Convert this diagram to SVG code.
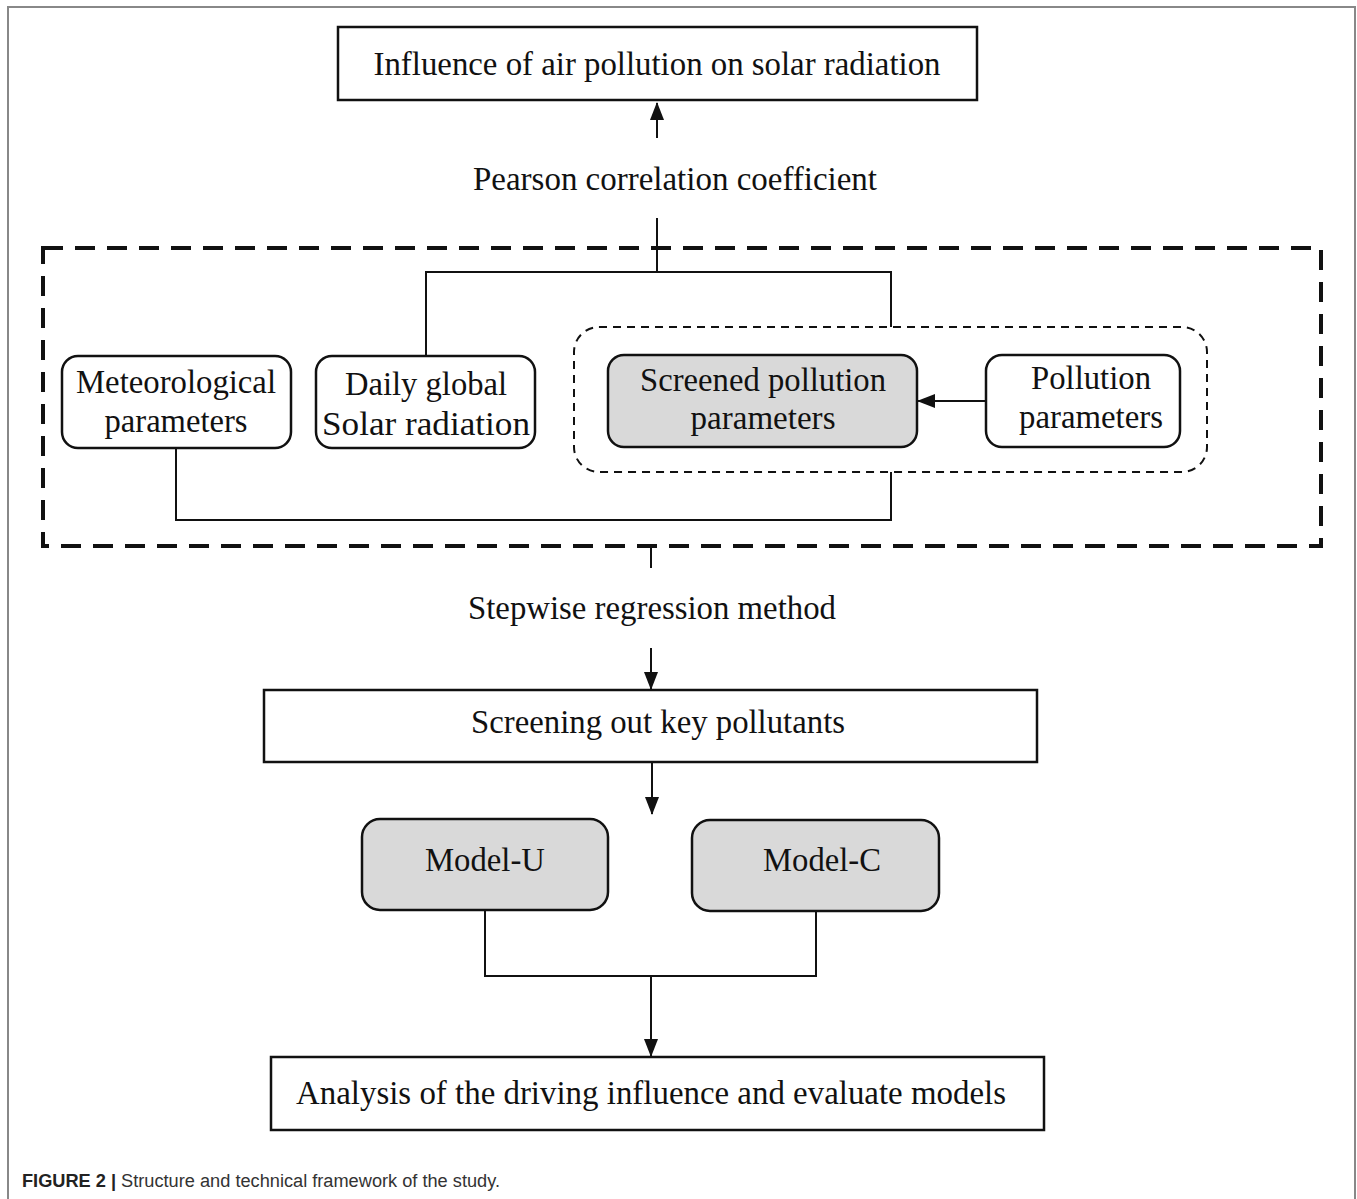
<svg xmlns="http://www.w3.org/2000/svg" width="1357" height="1199" viewBox="0 0 1357 1199">
<style>
.t{font-family:"Liberation Serif","Times New Roman",serif;font-size:34px;fill:#111;text-anchor:middle}
.box{fill:#fff;stroke:#111;stroke-width:2.5}
.rb{fill:#fff;stroke:#111;stroke-width:2.5}
.gb{fill:#d9d9d9;stroke:#111;stroke-width:2.5}
.ln{fill:none;stroke:#111;stroke-width:2}
.cap{font-family:"Liberation Sans",Arial,sans-serif;font-size:18px;fill:#333}
</style>
<defs>
<marker id="ah2" markerWidth="18" markerHeight="18" refX="17" refY="7" orient="auto" markerUnits="userSpaceOnUse" viewBox="0 0 18 14">
<path d="M0,0 L18,7 L0,14 z" fill="#111"/>
</marker>
</defs>
<rect width="1357" height="1199" fill="#fff"/>
<path d="M8,1199 V7 H1355 V1199" fill="none" stroke="#888" stroke-width="2"/>

<g id="outer-dashed">
<rect x="43" y="248" width="1278" height="298" fill="none" stroke="#111" stroke-width="4" stroke-dasharray="20,12"/>
</g>
<g id="inner-dashed">
<rect x="574" y="327" width="633" height="145" rx="25" fill="none" stroke="#111" stroke-width="2" stroke-dasharray="8,6"/>
</g>

<g id="connectors">
<line class="ln" x1="657" y1="138" x2="657" y2="103" marker-end="url(#ah2)"/>
<path class="ln" d="M657,218 V272 M426,355 V272 H891 V327"/>
<path class="ln" d="M176,448 V520 H891 V472"/>
<line class="ln" x1="986" y1="401" x2="918" y2="401" marker-end="url(#ah2)"/>
<path class="ln" d="M638,546 H651 V568"/>
<line class="ln" x1="651" y1="648" x2="651" y2="689" marker-end="url(#ah2)"/>
<line class="ln" x1="652" y1="762" x2="652" y2="814" marker-end="url(#ah2)"/>
<path class="ln" d="M485,910 V976 H816 V911 M651,976 V1000"/>
<line class="ln" x1="651" y1="1000" x2="651" y2="1056" marker-end="url(#ah2)"/>
</g>

<g id="n-influence">
<rect class="box" x="338" y="27" width="639" height="73"/>
<text class="t" x="657" y="75" textLength="567" lengthAdjust="spacingAndGlyphs">Influence of air pollution on solar radiation</text>
</g>
<g id="l-pearson">
<text class="t" x="675" y="190" textLength="404" lengthAdjust="spacingAndGlyphs">Pearson correlation coefficient</text>
</g>
<g id="n-met">
<rect class="rb" x="62" y="356" width="229" height="92" rx="16"/>
<text class="t" x="176" y="393" textLength="200" lengthAdjust="spacingAndGlyphs">Meteorological</text>
<text class="t" x="176" y="432" textLength="143" lengthAdjust="spacingAndGlyphs">parameters</text>
</g>
<g id="n-daily">
<rect class="rb" x="316" y="356" width="219" height="92" rx="16"/>
<text class="t" x="426" y="395" textLength="162" lengthAdjust="spacingAndGlyphs">Daily global</text>
<text class="t" x="426" y="435" textLength="208" lengthAdjust="spacingAndGlyphs">Solar radiation</text>
</g>
<g id="n-screened">
<rect class="gb" x="608" y="355" width="309" height="92" rx="16"/>
<text class="t" x="763" y="391" textLength="246" lengthAdjust="spacingAndGlyphs">Screened pollution</text>
<text class="t" x="763" y="429" textLength="145" lengthAdjust="spacingAndGlyphs">parameters</text>
</g>
<g id="n-pollution">
<rect class="rb" x="986" y="355" width="194" height="92" rx="16"/>
<text class="t" x="1091" y="389" textLength="120" lengthAdjust="spacingAndGlyphs">Pollution</text>
<text class="t" x="1091" y="428" textLength="144" lengthAdjust="spacingAndGlyphs">parameters</text>
</g>
<g id="l-stepwise">
<text class="t" x="652" y="619" textLength="368" lengthAdjust="spacingAndGlyphs">Stepwise regression method</text>
</g>
<g id="n-screening">
<rect class="box" x="264" y="690" width="773" height="72"/>
<text class="t" x="658" y="733" textLength="374" lengthAdjust="spacingAndGlyphs">Screening out key pollutants</text>
</g>
<g id="n-modelu">
<rect class="gb" x="362" y="819" width="246" height="91" rx="18"/>
<text class="t" x="485" y="871" textLength="120" lengthAdjust="spacingAndGlyphs">Model-U</text>
</g>
<g id="n-modelc">
<rect class="gb" x="692" y="820" width="247" height="91" rx="18"/>
<text class="t" x="822" y="871" textLength="118" lengthAdjust="spacingAndGlyphs">Model-C</text>
</g>
<g id="n-analysis">
<rect class="box" x="271" y="1057" width="773" height="73"/>
<text class="t" x="651" y="1104" textLength="710" lengthAdjust="spacingAndGlyphs">Analysis of the driving influence and evaluate models</text>
</g>
<g id="caption">
<text class="cap" x="22" y="1187" textLength="478" lengthAdjust="spacingAndGlyphs"><tspan font-weight="bold" fill="#222">FIGURE 2 |</tspan> Structure and technical framework of the study.</text>
</g>
</svg>
